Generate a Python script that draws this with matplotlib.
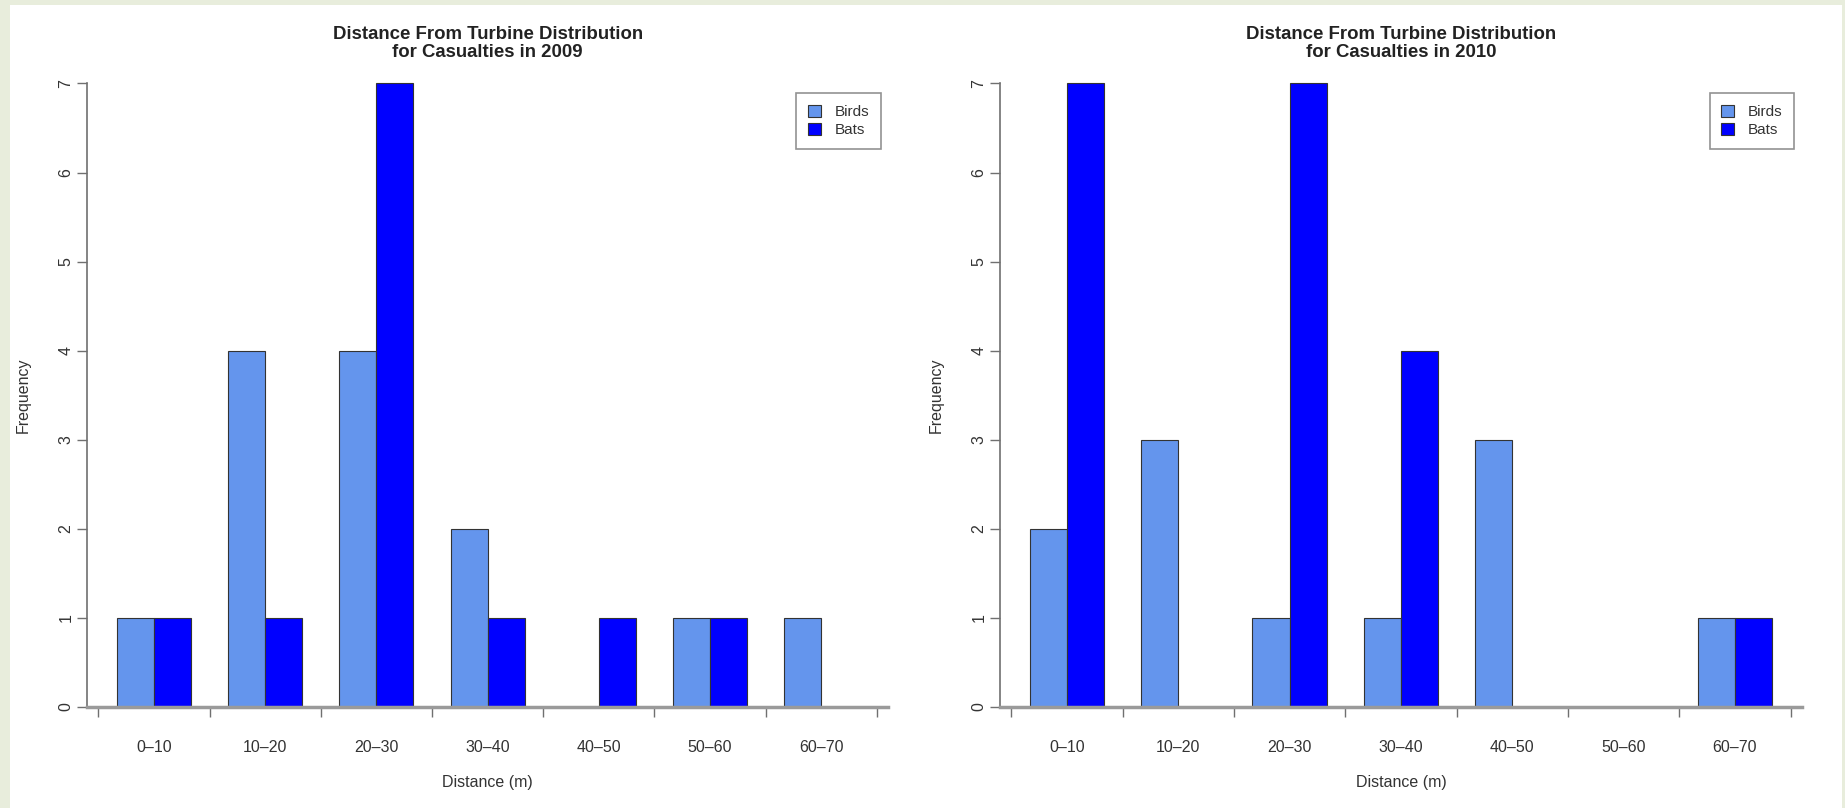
import numpy as np
import matplotlib
matplotlib.use("Agg")
import matplotlib.pyplot as plt
from matplotlib.patches import Rectangle, Patch

plt.rcParams["font.family"] = ["Liberation Sans", "DejaVu Sans"]

# distance bins and counts
bins = ["0\u201310", "10\u201320", "20\u201330", "30\u201340", "40\u201350", "50\u201360", "60\u201370"]
birds_2009 = [1, 4, 4, 2, 0, 1, 1]
bats_2009 = [1, 1, 7, 1, 1, 1, 0]
birds_2010 = [2, 3, 1, 1, 3, 0, 1]
bats_2010 = [7, 0, 7, 4, 0, 0, 1]
years = ["2009", "2010"]

BIRD_COL = "#6495ED"
BAT_COL = "#0000FF"
AX_COL = "#707070"
TXT_COL = "#333333"

fig = plt.figure(figsize=(18.45, 8.08), dpi=100, facecolor="white")

# light greenish frame around the picture
W, H = 1845, 808
for (x, y, w, h) in [(0, 0, 10, H), (0, H - 5, W, 5), (W - 3, 0, 3, H)]:
    fig.patches.append(Rectangle((x / W, y / H), w / W, h / H, transform=fig.transFigure,
                                 facecolor="#e8eddc", edgecolor="none", zorder=0))


def panel(ax, birds, bats, year):
    n = len(bins)
    centers = np.arange(n) * 3 + 2
    ax.bar(centers - 0.5, birds, width=1, color=BIRD_COL, edgecolor="#333333", linewidth=0.8, zorder=2)
    ax.bar(centers + 0.5, bats, width=1, color=BAT_COL, edgecolor="#333333", linewidth=0.8, zorder=2)
    ax.set_xlim(0.2, 21.8)
    ax.set_ylim(-0.28, 7.28)

    for s in ["top", "right"]:
        ax.spines[s].set_visible(False)
    ax.spines["left"].set_bounds(0, 7)
    ax.spines["left"].set_color(AX_COL)
    ax.spines["left"].set_linewidth(1.2)
    ax.spines["bottom"].set_position(("data", 0))
    ax.spines["bottom"].set_color("#9a9a9a")
    ax.spines["bottom"].set_linewidth(2.5)
    ax.spines["bottom"].set_zorder(3)

    bounds = np.arange(n + 1) * 3 + 0.5
    ax.set_xticks(bounds)
    ax.set_xticklabels([])
    ax.set_xticks(centers, minor=True)
    ax.set_xticklabels(bins, minor=True, fontsize=11.5, color=TXT_COL)
    ax.tick_params(axis="x", which="major", length=7, width=1, color=AX_COL, direction="out")
    ax.tick_params(axis="x", which="minor", length=0, pad=24)

    ax.set_yticks(range(8))
    ax.set_yticklabels([str(v) for v in range(8)], rotation=90, va="center",
                       fontsize=11.5, color=TXT_COL)
    ax.tick_params(axis="y", length=7, width=1, color=AX_COL, pad=3)

    ax.text(0.5, -0.075, "Distance (m)", transform=ax.transAxes, ha="center", va="center",
            fontsize=11.5, color=TXT_COL)
    ax.text(-0.0803, 0.5, "Frequency", transform=ax.transAxes, ha="center", va="center",
            rotation=90, fontsize=11.5, color=TXT_COL)
    ax.text(0.5, 1.0225, "Distance From Turbine Distribution\nfor Casualties in " + year,
            transform=ax.transAxes, ha="center", va="center", fontsize=13.4,
            fontweight="bold", color="#222222", linespacing=1.1)

    handles = [Patch(facecolor=BIRD_COL, edgecolor="#333333", linewidth=0.8),
               Patch(facecolor=BAT_COL, edgecolor="#333333", linewidth=0.8)]
    leg = ax.legend(handles, ["Birds", "Bats"], loc="upper right",
                    bbox_to_anchor=(21.6, 6.89), bbox_transform=ax.transData,
                    borderaxespad=0, fontsize=11, handlelength=0.85, handleheight=0.85,
                    handletextpad=0.9, borderpad=0.75, labelspacing=0.25,
                    fancybox=False, frameon=True, labelcolor=TXT_COL)
    leg.get_frame().set_edgecolor("#777777")
    leg.get_frame().set_linewidth(1.2)


ax1 = fig.add_axes([0.0473, 0.0941, 0.4340, 0.8335])
ax2 = fig.add_axes([0.5421, 0.0941, 0.4344, 0.8335])
for a in (ax1, ax2):
    a.set_facecolor("none")

panel(ax1, birds_2009, bats_2009, years[0])
panel(ax2, birds_2010, bats_2010, years[1])

fig.savefig("out.png", dpi=100, facecolor=fig.get_facecolor())
